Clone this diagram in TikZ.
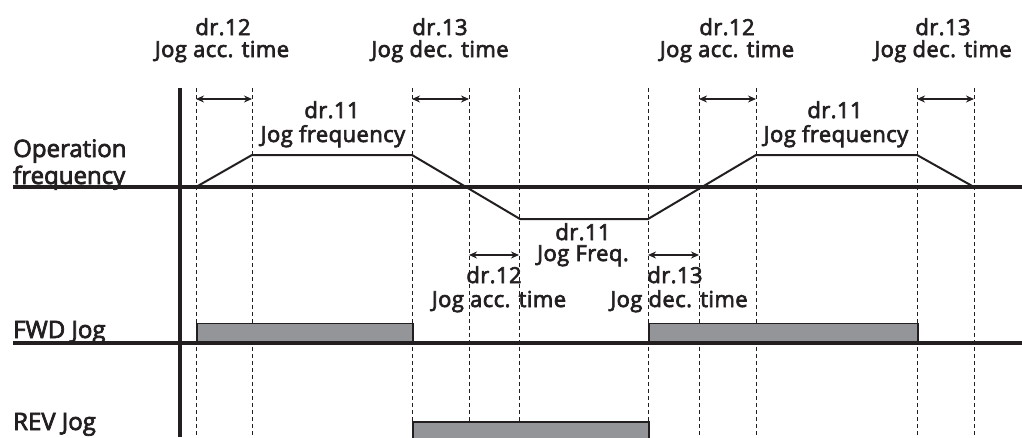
\documentclass[tikz,border=0pt]{standalone}
\usepackage{fontspec}
\setmainfont{Open Sans}
\newfontfamily\lblfont{Open Sans}[FakeBold=3, LetterSpace=2]
\newfontfamily\rowfont{Open Sans}[FakeBold=3]
\usetikzlibrary{arrows.meta}
\definecolor{ink}{HTML}{231F20}
\definecolor{barfill}{HTML}{939598}
\tikzset{
  lbl/.style={anchor=base, inner sep=0pt, text=ink, font=\lblfont\fontsize{22}{25}\selectfont},
  lblw/.style={anchor=base west, inner sep=0pt, text=ink, font=\rowfont\fontsize{24}{28}\selectfont},
  guide/.style={draw=ink, line width=1pt, dash pattern=on 4pt off 3pt},
  axisline/.style={draw=ink, line width=3.2pt},
  wave/.style={draw=ink, line width=2pt, line join=miter},
  bar/.style={draw=ink, fill=barfill, line width=1.5pt},
  span/.style={draw=ink, line width=1.5pt, {Stealth[length=8pt,width=7pt]}-{Stealth[length=8pt,width=7pt]}}
}
\begin{document}
\begin{tikzpicture}[x=1pt, y=-1pt]
\useasboundingbox (0,0) rectangle (1022,437);
% guide coordinates
\foreach \n/\x in {a/196,b/252,c/412,d/469,e/519,f/648,g/699,h/756,i/917,j/974}{
  \coordinate (\n t) at (\x,88);
  \coordinate (\n b) at (\x,437);
  \draw[guide] (\n t) -- (\n b);
}
% bars
\node[bar, minimum width=216pt, minimum height=19pt, inner sep=0pt, anchor=south west] (fwd1) at (196,343) {};
\node[bar, minimum width=269pt, minimum height=19pt, inner sep=0pt, anchor=south west] (fwd2) at (648,343) {};
\node[bar, minimum width=236pt, minimum height=22pt, inner sep=0pt, anchor=north west] (rev1) at (412,421) {};
% axes
\coordinate (axtop) at (180,88);
\coordinate (axbot) at (180,437);
\draw[axisline] (axtop) -- (axbot);
\coordinate (of0) at (13,187); \coordinate (of1) at (1022,187);
\draw[axisline] (of0) -- (of1);
\coordinate (fw0) at (13,343); \coordinate (fw1) at (1022,343);
\draw[axisline] (fw0) -- (fw1);
% waveform
\coordinate (w1) at (196,187);
\coordinate (w2) at (252,155);
\coordinate (w3) at (412,155);
\coordinate (w4) at (520,219);
\coordinate (w5) at (648,219);
\coordinate (w6) at (756,155);
\coordinate (w7) at (917,155);
\coordinate (w8) at (974,187);
\draw[wave] (w1) -- (w2) -- (w3) -- (w4) -- (w5) -- (w6) -- (w7) -- (w8);
% span arrows
\coordinate (s1a) at (196,99); \coordinate (s1b) at (252,99);
\coordinate (s2a) at (412,99); \coordinate (s2b) at (469,99);
\coordinate (s3a) at (699,99); \coordinate (s3b) at (756,99);
\coordinate (s4a) at (917,99); \coordinate (s4b) at (974,99);
\coordinate (s5a) at (469,255); \coordinate (s5b) at (519,255);
\coordinate (s6a) at (648,255); \coordinate (s6b) at (699,255);
\draw[span] (s1a) -- (s1b);
\draw[span] (s2a) -- (s2b);
\draw[span] (s3a) -- (s3b);
\draw[span] (s4a) -- (s4b);
\draw[span] (s5a) -- (s5b);
\draw[span] (s6a) -- (s6b);
% top labels
\node[lbl] (t1a) at (223,35) {dr.12};
\node[lbl] (t1b) at (222,57) {Jog acc. time};
\node[lbl] (t2a) at (440,35) {dr.13};
\node[lbl] (t2b) at (440,57) {Jog dec. time};
\node[lbl] (t3a) at (727,35) {dr.12};
\node[lbl] (t3b) at (727,57) {Jog acc. time};
\node[lbl] (t4a) at (943,35) {dr.13};
\node[lbl] (t4b) at (943,57) {Jog dec. time};
% plateau labels
\node[lbl] (p1a) at (332,118) {dr.11};
\node[lbl] (p1b) at (333,142) {Jog frequency};
\node[lbl] (p2a) at (835,118) {dr.11};
\node[lbl] (p2b) at (836,142) {Jog frequency};
\node[lbl] (p3a) at (583,240) {dr.11};
\node[lbl] (p3b) at (583,261) {Jog Freq.};
% lower labels
\node[lbl] (l1a) at (494,283) {dr.12};
\node[lbl] (l1b) at (499,307) {Jog acc. time};
\node[lbl] (l2a) at (675,283) {dr.13};
\node[lbl] (l2b) at (679,307) {Jog dec. time};
% row labels
\node[lblw] (r1a) at (13,157) {Operation};
\node[lblw] (r1b) at (13,184) {frequency};
\node[lblw] (r2) at (13,338) {FWD Jog};
\node[lblw] (r3) at (13,430) {REV Jog};
\end{tikzpicture}
\end{document}
